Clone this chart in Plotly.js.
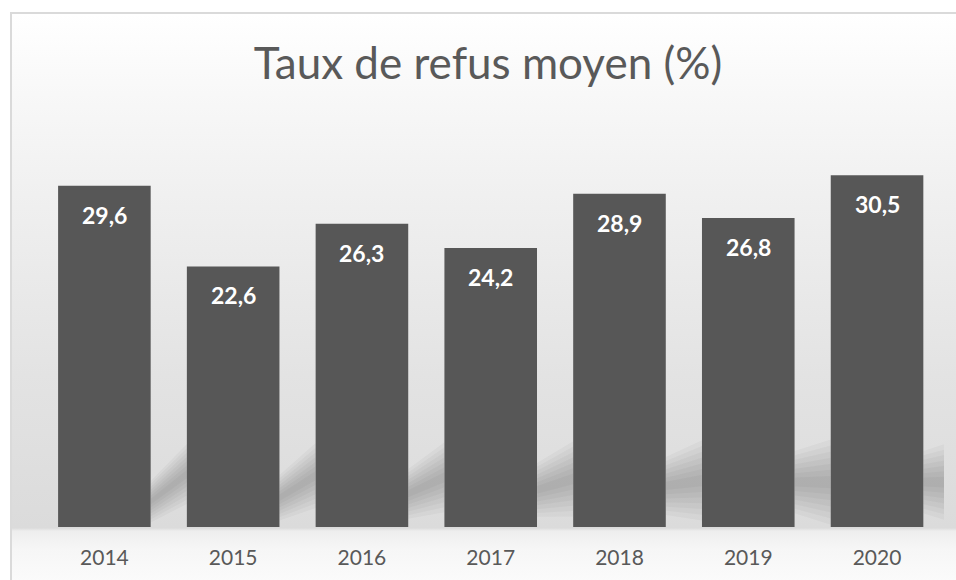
<!DOCTYPE html>
<html>
<head>
<meta charset="utf-8">
<script src="https://cdn.plot.ly/plotly-3.0.1.min.js"></script>
<style>
  html, body { margin: 0; padding: 0; width: 956px; height: 580px; overflow: hidden; background: #ffffff; }
  #bg {
    position: absolute; left: 10px; top: 12px; width: 1000px; height: 600px;
    border-top: 2px solid #dadada; border-left: 2px solid #dadada;
    background: linear-gradient(to bottom, #ffffff 0px, #f8f8f8 80px, #f0f0f0 180px, #e3e3e3 360px, #dbdbdb 514px, #eeeeee 517px, #f6f6f6 535px, #fbfbfb 568px);
  }
  #chart { position: absolute; left: 0; top: 0; width: 956px; height: 580px; }
</style>
</head>
<body>
<div id="bg"></div>
<div id="chart"></div>
<script>
const years = ["2014", "2015", "2016", "2017", "2018", "2019", "2020"];
const values = [29.6, 22.6, 26.3, 24.2, 28.9, 26.8, 30.5];
const labels = ["29,6", "22,6", "26,3", "24,2", "28,9", "26,8", "30,5"];
const titleText = "Taux de refus moyen (%)";

const idx = years.map((_, i) => i);
const barWidth = 0.719;
const half = barWidth / 2;
const gap = 1 - barWidth;

// decorative soft perspective shadows to the right of each bar
const shadowFirst = { l: [0.4, 4.0], r: [2.0, 7.2] };
const shadowLast  = { l: [1.2, 6.6], r: [0.2, 7.6] };
const shadowSteps = 7;
const shapes = [];
idx.forEach(i => {
  const t = i / (idx.length - 2);
  const mix = (a, b) => a + (b - a) * Math.min(t, 1);
  const L = [mix(shadowFirst.l[0], shadowLast.l[0]), mix(shadowFirst.l[1], shadowLast.l[1])];
  const R = [mix(shadowFirst.r[0], shadowLast.r[0]), mix(shadowFirst.r[1], shadowLast.r[1])];
  const lc = (L[0] + L[1]) / 2, rc = (R[0] + R[1]) / 2;
  const xa = i + half, xb = xa + gap;
  for (let k = 0; k < shadowSteps; k++) {
    const f = 1 - k / shadowSteps;
    const l0 = lc - (lc - L[0]) * f, l1 = lc + (L[1] - lc) * f;
    const r0 = rc - (rc - R[0]) * f, r1 = rc + (R[1] - rc) * f;
    shapes.push({
      type: "path", xref: "x", yref: "y", layer: "below",
      path: `M${xa},${l0} L${xa},${l1} L${xb},${r1} L${xb},${r0} Z`,
      fillcolor: "rgba(0,0,0,0.03)", line: { width: 0 }
    });
  }
});

const annotations = idx.map(i => ({
  x: i, y: values[i], xref: "x", yref: "y",
  text: labels[i], showarrow: false,
  yanchor: "middle", yshift: -29,
  font: { family: "Lato, sans-serif", size: 23, color: "#ffffff", weight: "bold" }
}));

const trace = {
  type: "bar", x: idx, y: values, width: barWidth,
  marker: { color: "#575757", line: { width: 0 } },
  hoverinfo: "skip"
};

const layout = {
  width: 956, height: 580,
  margin: { l: 40, r: 12, t: 150, b: 53 },
  paper_bgcolor: "rgba(0,0,0,0)", plot_bgcolor: "rgba(0,0,0,0)",
  title: {
    text: titleText, xref: "container", x: 0.5105, xanchor: "center",
    yref: "container", y: 0.891, yanchor: "middle",
    font: { family: "Lato, sans-serif", size: 44, color: "#595959", weight: 400 }
  },
  xaxis: {
    range: [-0.5, 6.52], tickvals: idx, ticktext: years,
    showgrid: false, zeroline: false, showline: false, ticks: "",
    ticklabelstandoff: 16,
    tickfont: { family: "Lato, sans-serif", size: 21, color: "#595959" },
    fixedrange: true
  },
  yaxis: { range: [0, 32.7], visible: false, showgrid: false, zeroline: false, fixedrange: true },
  showlegend: false,
  shapes: shapes,
  annotations: annotations
};

Plotly.newPlot("chart", [trace], layout, { displayModeBar: false, staticPlot: true });
</script>
</body>
</html>
